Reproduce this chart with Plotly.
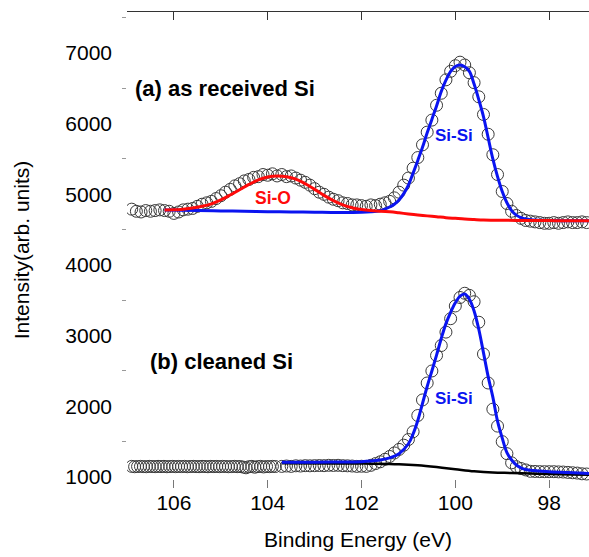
import plotly.graph_objects as go

# ---------------- data ----------------
# Panel (a): as received Si  (measured points, 0.1 eV step from 106.9 eV)
a_e_start, a_e_step = 106.9, -0.1
a_counts = [4790, 4760, 4750, 4770, 4760, 4770, 4780, 4770, 4760, 4730,
            4750, 4780, 4790, 4800, 4830, 4860, 4880, 4900, 4940, 4980,
            5030, 5070, 5120, 5150, 5190, 5210, 5240, 5250, 5280, 5270,
            5290, 5260, 5280, 5250, 5260, 5230, 5200, 5170, 5130, 5080,
            5030, 5000, 4960, 4930, 4910, 4880, 4870, 4850, 4850, 4840,
            4830, 4850, 4840, 4860, 4880, 4900, 4950, 5030, 5130, 5230,
            5370, 5520, 5700, 5880, 6050, 6260, 6430, 6620, 6740, 6820,
            6870, 6830, 6720, 6580, 6380, 6130, 5850, 5560, 5280, 5040,
            4870, 4760, 4700, 4660, 4630, 4620, 4610, 4600, 4590, 4590,
            4600, 4590, 4600, 4610, 4600, 4600, 4610, 4600]

# Si-O component + background (red)
a_red_e = [106.2, 106.0, 105.8, 105.6, 105.4, 105.2, 105.0, 104.8, 104.6, 104.4,
           104.2, 104.0, 103.8, 103.6, 103.4, 103.2, 103.0, 102.8, 102.6, 102.4,
           102.2, 102.0, 101.8, 101.6, 101.4, 101.2, 101.0, 100.8, 100.6, 100.4,
           100.2, 100.0, 99.8, 99.6, 99.4, 99.2, 99.0, 98.5, 98.0, 97.5, 97.15]
a_red_i = [4778, 4780, 4790, 4805, 4830, 4865, 4920, 4990, 5065, 5140,
           5205, 5245, 5260, 5250, 5215, 5150, 5070, 4985, 4910, 4850,
           4810, 4785, 4770, 4762, 4752, 4738, 4722, 4708, 4695, 4683,
           4670, 4660, 4650, 4643, 4637, 4634, 4632, 4630, 4628, 4626, 4625]

# Si-Si component + background (blue)
a_blue_e = [106.2, 105.5, 105.0, 104.5, 104.0, 103.5, 103.0, 102.5, 102.0, 101.8,
            101.6, 101.5, 101.4, 101.3, 101.2, 101.1, 101.0, 100.9, 100.8, 100.7,
            100.6, 100.5, 100.4, 100.3, 100.2, 100.1, 100.0, 99.9, 99.8, 99.7,
            99.6, 99.5, 99.4, 99.3, 99.2, 99.1, 99.0, 98.9, 98.8, 98.7,
            98.6, 98.5, 98.4, 98.2, 98.0, 97.5, 97.15]
a_blue_i = [4778, 4770, 4765, 4760, 4755, 4750, 4746, 4742, 4745, 4752,
            4768, 4790, 4820, 4860, 4920, 5010, 5130, 5300, 5480, 5665,
            5870, 6060, 6250, 6455, 6615, 6740, 6810, 6830, 6805, 6740,
            6560, 6340, 6100, 5800, 5500, 5250, 5040, 4880, 4770, 4705,
            4670, 4650, 4640, 4633, 4630, 4626, 4625]

# Panel (b): cleaned Si
b1_e_start, b1_e_step = 106.9, -0.0625
b1_counts = [1150, 1145, 1148, 1150, 1147, 1145, 1150, 1148, 1146, 1150,
             1147, 1150, 1145, 1148, 1150, 1146, 1149, 1147, 1150, 1145,
             1148, 1150, 1147, 1146, 1150, 1148, 1145, 1150, 1147, 1149,
             1146, 1150, 1148, 1145, 1147, 1150, 1146, 1148, 1140, 1130,
             1145, 1150, 1138, 1147, 1150, 1142, 1148, 1146, 1150, 1148]
b2_e_start, b2_e_step = 103.7, -0.1
b2_counts = [1150, 1155, 1150, 1158, 1155, 1160, 1158, 1160, 1162, 1160,
             1165, 1163, 1165, 1160, 1158, 1155, 1150, 1152, 1150,
             1165, 1190, 1215, 1250, 1290, 1340, 1390, 1450, 1530, 1640,
             1870, 2090, 2330, 2500, 2720, 2860, 3050, 3240, 3420, 3540,
             3600, 3570, 3480, 3190, 2740, 2330, 1960, 1720, 1500, 1330,
             1200, 1146, 1120, 1100, 1080, 1078, 1076, 1075, 1075, 1075,
             1072, 1070, 1065, 1060, 1055, 1045, 1042]

b_blue_e = [103.7, 103.0, 102.5, 102.0, 101.8, 101.6, 101.4, 101.2, 101.0, 100.9,
            100.8, 100.7, 100.6, 100.5, 100.4, 100.3, 100.2, 100.1, 100.0, 99.9,
            99.8, 99.7, 99.6, 99.5, 99.4, 99.3, 99.2, 99.1, 99.0, 98.9,
            98.8, 98.7, 98.6, 98.5, 98.4, 98.2, 98.0, 97.6, 97.15]
b_blue_i = [1208, 1210, 1212, 1217, 1225, 1240, 1270, 1330, 1470, 1610,
            1800, 2040, 2280, 2500, 2725, 2960, 3170, 3330, 3465, 3560,
            3590, 3515, 3350, 3090, 2760, 2420, 2130, 1790, 1550, 1345,
            1240, 1170, 1130, 1105, 1095, 1085, 1075, 1062, 1050]

b_black_e = [103.7, 102.5, 101.8, 101.2, 100.8, 100.4, 100.0, 99.6, 99.2, 98.8,
             98.4, 98.0, 97.5, 97.15]
b_black_i = [1195, 1192, 1188, 1180, 1165, 1140, 1110, 1080, 1062, 1057,
             1050, 1042, 1035, 1030]

x_ticks = [106, 104, 102, 100, 98]
y_ticks = [1000, 2000, 3000, 4000, 5000, 6000, 7000]
y_minor = [1500, 2500, 3500, 4500, 5500, 6500, 7500]

# ---------------- figure ----------------
def grid(start, step, n):
    return [round(start + k * step, 4) for k in range(n)]

a_e = grid(a_e_start, a_e_step, len(a_counts))
b_e = grid(b1_e_start, b1_e_step, len(b1_counts)) + grid(b2_e_start, b2_e_step, len(b2_counts))
b_counts = b1_counts + b2_counts

FONT = "Arial, Liberation Sans, sans-serif"
BLUE = "#0a14f0"
RED = "#ff0a0a"

marker = dict(symbol="circle-open", size=12, color="#3a3a3a", line=dict(width=1))

fig = go.Figure()
fig.add_trace(go.Scatter(x=a_e, y=a_counts, mode="markers", marker=marker, showlegend=False))
fig.add_trace(go.Scatter(x=b_e, y=b_counts, mode="markers", marker=marker, showlegend=False))
fig.add_trace(go.Scatter(x=a_blue_e, y=a_blue_i, mode="lines", line=dict(color=BLUE, width=3, shape="spline"), showlegend=False))
fig.add_trace(go.Scatter(x=a_red_e, y=a_red_i, mode="lines", line=dict(color=RED, width=3, shape="spline"), showlegend=False))
fig.add_trace(go.Scatter(x=b_black_e, y=b_black_i, mode="lines", line=dict(color="black", width=2.5, shape="spline"), showlegend=False))
fig.add_trace(go.Scatter(x=b_blue_e, y=b_blue_i, mode="lines", line=dict(color=BLUE, width=3, shape="spline"), showlegend=False))
# invisible trace on top axis
fig.add_trace(go.Scatter(x=[106], y=[1000], xaxis="x2", mode="markers", marker=dict(opacity=0), showlegend=False, hoverinfo="skip"))

fig.add_annotation(x=106.87, y=6504, text="<b>(a) as received Si</b>", showarrow=False,
                   xanchor="left", yanchor="middle", font=dict(size=22, color="black", family=FONT))
fig.add_annotation(x=106.55, y=2641, text="<b>(b) cleaned Si</b>", showarrow=False,
                   xanchor="left", yanchor="middle", font=dict(size=22, color="black", family=FONT))
fig.add_annotation(x=103.89, y=4948, text="<b>Si-O</b>", showarrow=False,
                   font=dict(size=17.5, color=RED, family=FONT))
fig.add_annotation(x=100.03, y=5839, text="<b>Si-Si</b>", showarrow=False,
                   font=dict(size=17, color=BLUE, family=FONT))
fig.add_annotation(x=100.02, y=2104, text="<b>Si-Si</b>", showarrow=False,
                   font=dict(size=17, color=BLUE, family=FONT))

XR = [107.0, 97.15]
fig.update_layout(
    width=589, height=557,
    margin=dict(l=127, r=0, t=12, b=69),
    paper_bgcolor="white", plot_bgcolor="white",
    font=dict(family=FONT, size=21, color="black"),
    hovermode=False,
    xaxis=dict(range=XR, tickvals=x_ticks, ticktext=[str(v) for v in x_ticks],
               ticks="inside", ticklen=8, tickcolor="#777", tickwidth=1,
               showline=False, showgrid=False, zeroline=False,
               tickfont=dict(size=21, family=FONT),
               title=dict(text="Binding Energy (eV)", font=dict(size=21, family=FONT), standoff=19)),
    xaxis2=dict(range=XR, overlaying="x", side="top", tickvals=x_ticks,
                ticks="inside", ticklen=8, tickcolor="#333", tickwidth=1,
                showticklabels=False, showline=True, linecolor="#333", linewidth=1,
                showgrid=False, zeroline=False),
    yaxis=dict(range=[844, 7580], tickvals=y_ticks, ticktext=[str(v) for v in y_ticks],
               ticks="", showline=False, showgrid=False, zeroline=False,
               ticklabelstandoff=14,
               minor=dict(tickmode="array", tickvals=y_minor, ticks="outside", ticklen=4,
                          tickcolor="#999", tickwidth=1, showgrid=False),
               tickfont=dict(size=21, family=FONT),
               title=dict(text="Intensity(arb. units)", font=dict(size=21, family=FONT), standoff=29)),
)

fig.write_html("out.html", config={"displayModeBar": False},
               post_script="document.body.style.margin='0px';")
